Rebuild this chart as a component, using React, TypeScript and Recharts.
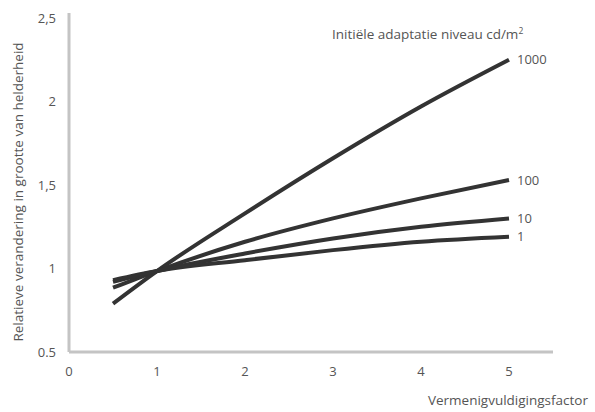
import React from "react";
import { LineChart, Line, XAxis, YAxis } from "recharts";

const xValues = [0.5, 1, 2, 3, 4, 5];
const seriesNames = ["1000", "100", "10", "1"];
const values1000 = [0.79, 0.985, 1.33, 1.66, 1.97, 2.25];
const values100 = [0.885, 0.985, 1.16, 1.3, 1.42, 1.53];
const values10 = [0.92, 0.985, 1.09, 1.18, 1.25, 1.3];
const values1 = [0.93, 0.985, 1.05, 1.11, 1.16, 1.19];
const xTicks = [0, 1, 2, 3, 4, 5];
const yTicks = [0.5, 1, 1.5, 2, 2.5];
const yTickLabels = ["0.5", "1", "1,5", "2", "2,5"];

const seriesValues = [values1000, values100, values10, values1];
const data = xValues.map((x, i) => {
  const row: Record<string, number> = { x };
  seriesNames.forEach((n, s) => {
    row["s" + n] = seriesValues[s][i];
  });
  return row;
});

const FONT = "'Open Sans', 'Liberation Sans', sans-serif";
const TEXT = "#555";

const endLabel = (name: string) => (props: any) => {
  const { x, y, index } = props;
  if (index !== data.length - 1) return null;
  return (
    <text x={x + 8} y={y} dy="0.35em" fontSize={13} fill={TEXT} fontFamily={FONT}>
      {name}
    </text>
  );
};

export default function App() {
  return (
    <div style={{ position: "fixed", left: 0, top: 0, width: 595, height: 412, background: "#fff", fontFamily: FONT }}>
      <LineChart
        width={595}
        height={412}
        data={data}
        margin={{ top: 13, right: 42, bottom: 30, left: 39 }}
      >
        <XAxis
          dataKey="x"
          type="number"
          domain={[0, 5.5]}
          ticks={xTicks}
          tickLine={false}
          tickSize={0}
          tickMargin={15}
          height={30}
          axisLine={{ stroke: "#c4c4c4", strokeWidth: 3 }}
          tick={{ fontSize: 13, fill: TEXT, fontFamily: FONT }}
        />
        <YAxis
          type="number"
          domain={[0.5, 2.53]}
          ticks={yTicks}
          allowDataOverflow
          tickLine={false}
          tickSize={0}
          tickMargin={13}
          width={30}
          axisLine={{ stroke: "#c4c4c4", strokeWidth: 3 }}
          tick={{ fontSize: 13, fill: TEXT, fontFamily: FONT }}
          tickFormatter={(v: number) => yTickLabels[yTicks.indexOf(v)] ?? String(v)}
        />
        {seriesNames.map((n) => (
          <Line
            key={n}
            dataKey={"s" + n}
            type="monotone"
            stroke="#333"
            strokeWidth={4}
            dot={false}
            activeDot={false}
            isAnimationActive={false}
            label={endLabel(n)}
          />
        ))}
      </LineChart>
      <div
        style={{
          position: "absolute",
          left: 332,
          top: 25,
          fontSize: 13.5,
          lineHeight: "19px",
          color: TEXT,
          whiteSpace: "nowrap",
        }}
      >
        Initiële adaptatie niveau cd/m
        <span style={{ fontSize: 8.5, verticalAlign: "5px", lineHeight: 0 }}>2</span>
      </div>
      <div
        style={{
          position: "absolute",
          right: 7,
          top: 391,
          fontSize: 13.5,
          color: TEXT,
          whiteSpace: "nowrap",
        }}
      >
        Vermenigvuldigingsfactor
      </div>
      <div
        style={{
          position: "absolute",
          left: 18,
          top: 192,
          fontSize: 13.5,
          color: TEXT,
          whiteSpace: "nowrap",
          transform: "translate(-50%, -50%) rotate(-90deg)",
        }}
      >
        Relatieve verandering in grootte van helderheid
      </div>
    </div>
  );
}
